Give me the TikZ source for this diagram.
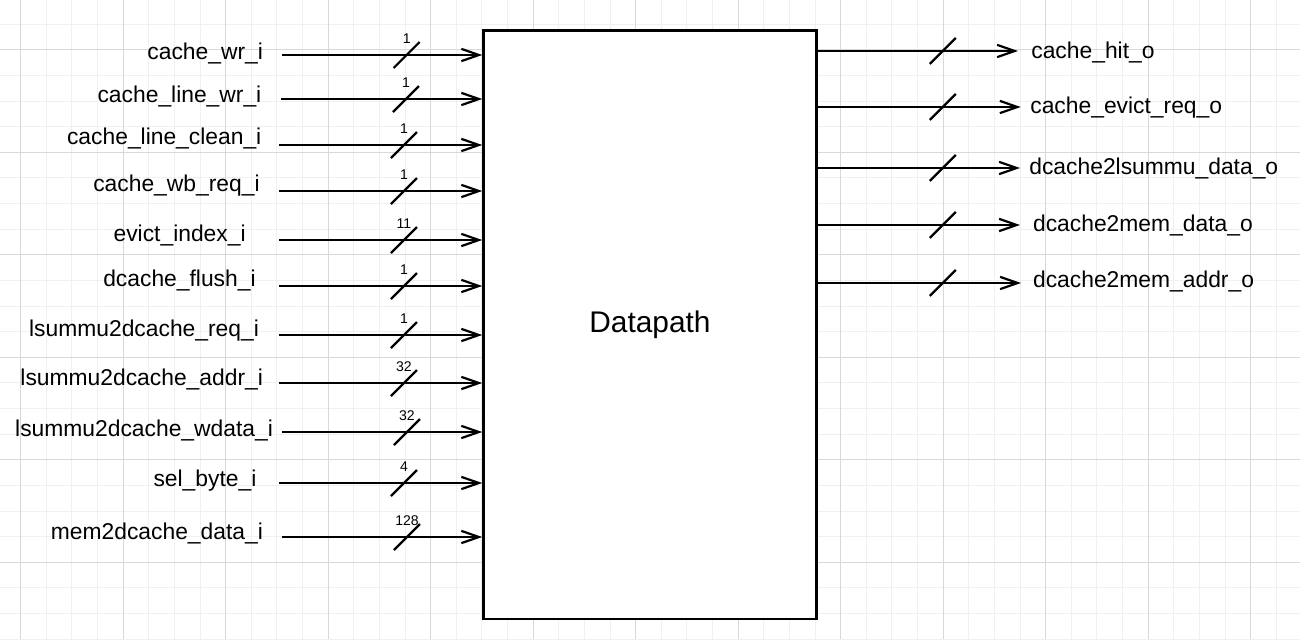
\documentclass[tikz,border=0pt]{standalone}
\usepackage{fontspec}
\setmainfont{Liberation Sans}
\usepackage{tikz}
\usetikzlibrary{positioning, arrows.meta, decorations.markings, calc}
\definecolor{GridMinor}{RGB}{240,240,240}
\definecolor{GridMajor}{RGB}{216,216,216}

\begin{document}
\begin{tikzpicture}[x=0.02cm, y=-0.02cm,
          blk/.style={draw, fill=white, line width=1.5pt, minimum width=6.66cm,
                      minimum height=11.77cm, font=\fontsize{17}{20}\selectfont},
          sig/.style={anchor=base east, inner sep=0pt, font=\fontsize{13}{15}\selectfont},
          osig/.style={anchor=base west, inner sep=0pt, font=\fontsize{13}{15}\selectfont},
          bw/.style={inner sep=0pt, font=\fontsize{8}{9}\selectfont},
          arr/.style={-{Straight Barb[length=10pt, width=7pt]}, line width=1.25pt},
          bus/.style={postaction={decorate, decoration={markings,
                      mark=at position 2.5cm with {\draw[arrows=-, line width=1.25pt] (-13,13) -- (13,-13);
                                                  \node[bw] at (0,-16) {#1};}}}},
          minor/.style={draw=GridMinor, line width=0.6pt},
          major/.style={draw=GridMajor, line width=0.6pt}
        ]
        \useasboundingbox (0,0) rectangle (1300,639);
        % grid
        \foreach \k in {0,...,51} \draw[minor] (-4.925+25.625*\k, 0) -- ++(0,639);
        \foreach \k in {0,...,25} \draw[minor] (0, -1.45+25.625*\k) -- ++(1300,0);
        \foreach \k in {0,...,12} \draw[major] (20.7+102.5*\k, 0) -- ++(0,639);
        \foreach \k in {0,...,5}  \draw[major] (0, 49.8+102.5*\k) -- ++(1300,0);

        \node[blk] (dp) at (650, 324.8) {Datapath};

        % inputs
        \node[sig] (cwr)  at (263.3, 59.3)  {cache\_wr\_i};
        \node[sig] (clwr) at (261.7, 102)   {cache\_line\_wr\_i};
        \node[sig] (clcl) at (261.7, 144)   {cache\_line\_clean\_i};
        \node[sig] (cwbr) at (260, 191.7)   {cache\_wb\_req\_i};
        \node[sig] (evi)  at (246, 241)     {evict\_index\_i};
        \node[sig] (dfl)  at (256, 286)     {dcache\_flush\_i};
        \node[sig] (lreq) at (259.3, 336.7) {lsummu2dcache\_req\_i};
        \node[sig] (ladr) at (263.3, 385)   {lsummu2dcache\_addr\_i};
        \node[sig] (lwd)  at (273.3, 436)   {lsummu2dcache\_wdata\_i};
        \node[sig] (sel)  at (256.7, 486.7) {sel\_byte\_i};
        \node[sig] (m2d)  at (263.3, 539.3) {mem2dcache\_data\_i};

        \coordinate (cwr-s)  at (281.7, 55);
        \coordinate (clwr-s) at (281, 99);
        \coordinate (clcl-s) at (279, 145);
        \coordinate (cwbr-s) at (279, 191);
        \coordinate (evi-s)  at (279, 240);
        \coordinate (dfl-s)  at (279, 286);
        \coordinate (lreq-s) at (279, 335);
        \coordinate (ladr-s) at (279, 383);
        \coordinate (lwd-s)  at (282, 432);
        \coordinate (sel-s)  at (279, 483);
        \coordinate (m2d-s)  at (282, 537);

        \draw[arr, bus=1]   (cwr-s)  -- (cwr-s -| dp.west);
        \draw[arr, bus=1]   (clwr-s) -- (clwr-s -| dp.west);
        \draw[arr, bus=1]   (clcl-s) -- (clcl-s -| dp.west);
        \draw[arr, bus=1]   (cwbr-s) -- (cwbr-s -| dp.west);
        \draw[arr, bus=11]  (evi-s)  -- (evi-s -| dp.west);
        \draw[arr, bus=1]   (dfl-s)  -- (dfl-s -| dp.west);
        \draw[arr, bus=1]   (lreq-s) -- (lreq-s -| dp.west);
        \draw[arr, bus=32]  (ladr-s) -- (ladr-s -| dp.west);
        \draw[arr, bus=32]  (lwd-s)  -- (lwd-s -| dp.west);
        \draw[arr, bus=4]   (sel-s)  -- (sel-s -| dp.west);
        \draw[arr, bus=128] (m2d-s)  -- (m2d-s -| dp.west);

        % outputs
        \node[osig] (chit) at (1031, 58.3)   {cache\_hit\_o};
        \node[osig] (cevr) at (1030, 113.3)  {cache\_evict\_req\_o};
        \node[osig] (d2l)  at (1029, 174)    {dcache2lsummu\_data\_o};
        \node[osig] (d2md) at (1032.7, 231.7) {dcache2mem\_data\_o};
        \node[osig] (d2ma) at (1032.7, 287)  {dcache2mem\_addr\_o};

        \coordinate (chit-e) at (1018, 51);
        \coordinate (cevr-e) at (1020.7, 107);
        \coordinate (d2l-e)  at (1020, 168);
        \coordinate (d2md-e) at (1020, 225);
        \coordinate (d2ma-e) at (1021, 283);

        \draw[arr, bus=] (dp.east |- chit-e) -- (chit-e);
        \draw[arr, bus=] (dp.east |- cevr-e) -- (cevr-e);
        \draw[arr, bus=] (dp.east |- d2l-e)  -- (d2l-e);
        \draw[arr, bus=] (dp.east |- d2md-e) -- (d2md-e);
        \draw[arr, bus=] (dp.east |- d2ma-e) -- (d2ma-e);
      \end{tikzpicture}
\end{document}
